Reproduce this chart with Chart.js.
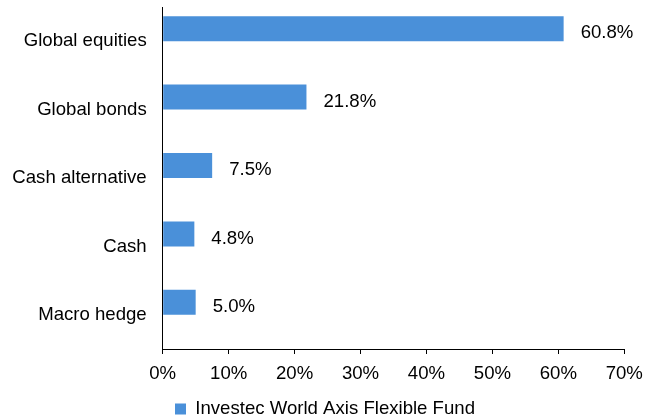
<!DOCTYPE html>
<html>
<head>
<meta charset="utf-8">
<script src="https://cdn.jsdelivr.net/npm/chart.js@4/dist/chart.umd.min.js"></script>
<style>
html, body { margin: 0; padding: 0; background: #fff; }
#wrap { width: 651px; height: 420px; }
</style>
</head>
<body>
<div id="wrap"><canvas id="myChart"></canvas></div>
<script>
// data
const categories = ['Global equities', 'Global bonds', 'Cash alternative', 'Cash', 'Macro hedge'];
const shares = [60.8, 21.8, 7.5, 4.8, 5.0];
const xTicks = [0, 10, 20, 30, 40, 50, 60, 70];
const seriesName = 'Investec World Axis Flexible Fund';

const FONT = '"Liberation Sans", Arial, sans-serif';
const SIZE = 18.6;
const BLUE = '#4a90d9';

// writes the % values next to each bar
const valueLabels = {
  id: 'valueLabels',
  afterDatasetsDraw(chart) {
    const ctx = chart.ctx;
    const meta = chart.getDatasetMeta(0);
    ctx.save();
    ctx.font = SIZE + 'px ' + FONT;
    ctx.fillStyle = '#000';
    ctx.textAlign = 'left';
    ctx.textBaseline = 'middle';
    meta.data.forEach((bar, i) => {
      ctx.fillText(shares[i].toFixed(1) + '%', bar.x + 17, bar.y + 4.5);
    });
    ctx.restore();
  }
};

new Chart(document.getElementById('myChart'), {
  type: 'bar',
  data: {
    labels: categories,
    datasets: [{
      label: seriesName,
      data: shares,
      backgroundColor: BLUE,
      borderWidth: 0,
      barPercentage: 1,
      categoryPercentage: 0.731
    }, {
      // empty second slot, Excel leaves the same gap below each bar
      label: '',
      data: categories.map(() => null),
      backgroundColor: BLUE,
      barPercentage: 1,
      categoryPercentage: 0.731
    }]
  },
  options: {
    indexAxis: 'y',
    responsive: true,
    maintainAspectRatio: false,
    animation: false,
    layout: { padding: { top: 7, right: 26.7, bottom: 0, left: 0 } },
    scales: {
      x: {
        min: 0,
        max: 70,
        afterBuildTicks(scale) {
          scale.ticks = xTicks.map(v => ({ value: v }));
        },
        afterFit(scale) {
          scale.height = 38.4;
          scale.paddingLeft = 0;
          scale.paddingRight = 0;
        },
        ticks: {
          callback: v => v + '%',
          color: '#000',
          padding: 8.3,
          maxRotation: 0,
          font: { family: FONT, size: SIZE }
        },
        grid: { drawOnChartArea: false, drawTicks: true, tickLength: 5, color: '#000', lineWidth: 1 },
        border: { display: true, color: '#000', width: 1 }
      },
      y: {
        afterFit(scale) {
          scale.width = 162.7;
          scale.paddingTop = 0;
          scale.paddingBottom = 0;
        },
        ticks: {
          color: '#000',
          padding: 16,
          font: { family: FONT, size: SIZE }
        },
        grid: { drawOnChartArea: false, drawTicks: false },
        border: { display: true, color: '#000', width: 1 }
      }
    },
    plugins: {
      tooltip: { enabled: false },
      legend: {
        position: 'bottom',
        align: 'start',
        fullSize: false,
        maxHeight: 32.6,
        labels: {
          filter: item => item.datasetIndex === 0,
          boxWidth: 11,
          boxHeight: 11,
          padding: 12.3,
          color: '#000',
          font: { family: FONT, size: SIZE }
        }
      }
    }
  },
  plugins: [valueLabels]
});
</script>
</body>
</html>
